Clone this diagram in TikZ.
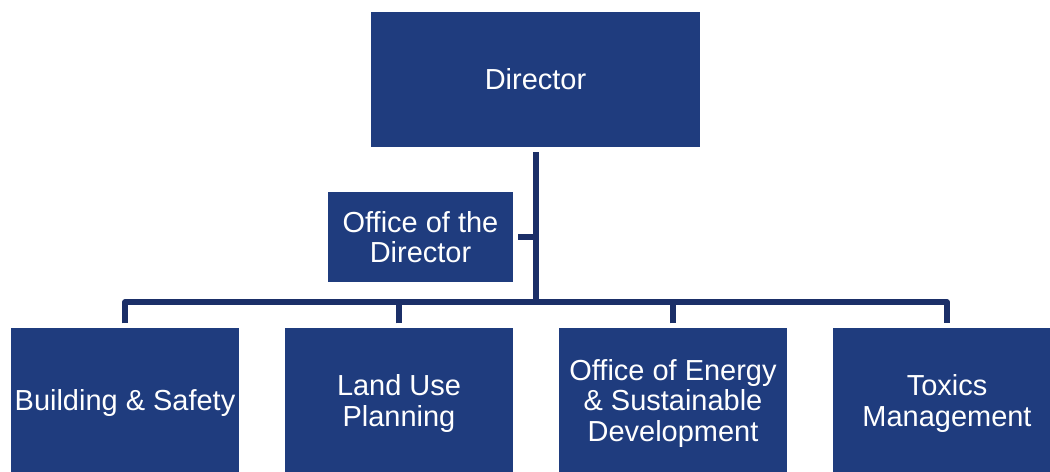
\documentclass[tikz,border=0pt]{standalone}
\usepackage{fontspec}
\setmainfont{Liberation Sans}
\definecolor{boxblue}{HTML}{1F3C7E}
\definecolor{lineblue}{HTML}{1B2F68}
\begin{document}
\begin{tikzpicture}[x=0.025cm,y=-0.025cm,
        every node/.style={font=\fontsize{20.6}{21.8}\selectfont},
        unit/.style={fill=boxblue,text=white,align=center,inner sep=0pt},
        conn/.style={draw=lineblue,line width=3.6pt,line join=round}]
        \useasboundingbox (0,0) rectangle (1050,472);
        \node[unit,minimum width=8.225cm,minimum height=3.375cm] (dir) at (535.5,79.5) {Director};
        \node[unit,minimum width=4.625cm,minimum height=2.25cm] (off) at (420.5,237) {Office of the\\Director};
        \foreach \x/\n/\t in {125/bs/{Building \& Safety},399/lu/{Land Use\\Planning},673/oe/{Office of Energy\\\& Sustainable\\Development},947/tm/{Toxics\\Management}} {
                \node[unit,minimum width=5.7cm,minimum height=3.75cm] (\n) at (\x,403.5) {\t};
            }
        \coordinate (hub) at (536,302);
        \draw[conn,shorten <=3.5pt] (dir.south -| hub) -- (hub);
        \draw[conn,shorten <=3.5pt] (off.east) -- (off.east -| hub);
        \draw[conn,shorten <=3.5pt,shorten >=3.5pt] (bs.north) |- (hub) -| (tm.north);
        \draw[conn,shorten <=3.5pt] (lu.north) -- (lu.north |- hub);
        \draw[conn,shorten <=3.5pt] (oe.north) -- (oe.north |- hub);
    \end{tikzpicture}
\end{document}
